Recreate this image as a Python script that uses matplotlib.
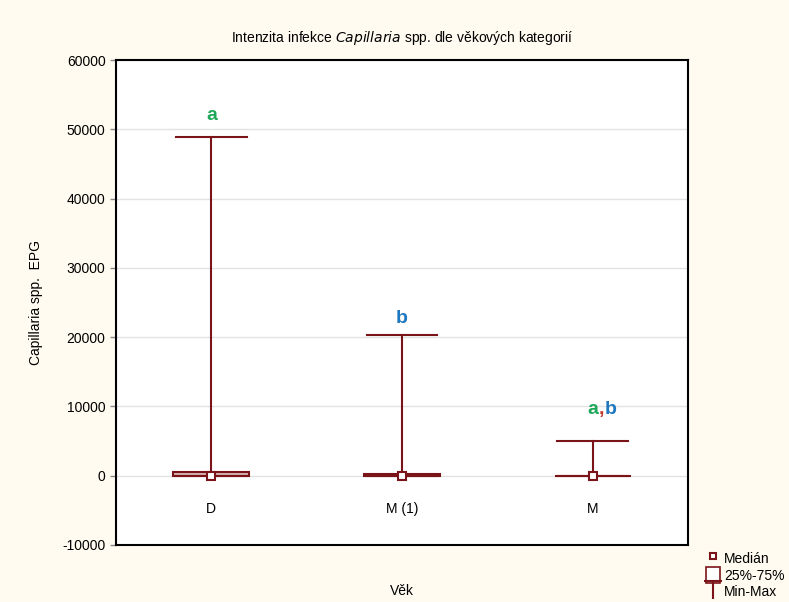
import matplotlib
matplotlib.use("Agg")
import matplotlib.pyplot as plt
from matplotlib.lines import Line2D
from matplotlib.patches import Patch
from matplotlib.path import Path
from matplotlib.markers import MarkerStyle

categories = ['D', 'M (1)', 'M']
mins = [0, 0, 0]
q1 = [0, 0, 0]
medians = [0, 0, 0]
q3 = [500, 250, 0]
maxs = [48900, 20300, 5000]
letters = [['a'], ['b'], ['a', ',', 'b']]
letter_colors = [['#1fa85a'], ['#1f78c0'], ['#1fa85a', '#c0392b', '#1f78c0']]
letter_y = [50800, 21400, 8300]
yticks = [-10000, 0, 10000, 20000, 30000, 40000, 50000, 60000]

plt.rcParams['font.family'] = ['Liberation Sans', 'DejaVu Sans']
BG = '#fffbf0'
RED = '#7a1418'

fig = plt.figure(figsize=(7.89, 6.02), dpi=100, facecolor=BG)
ax = fig.add_axes([116/789, 1-545/602, (688-116)/789, (545-60)/602])
ax.set_facecolor('white')

pos = list(range(len(categories)))
stats = []
for i, c in enumerate(categories):
    stats.append(dict(label=c, whislo=mins[i], q1=q1[i], med=medians[i],
                      q3=q3[i], whishi=maxs[i], fliers=[]))
ax.bxp(stats, positions=pos, widths=0.40, capwidths=0.37, showfliers=False,
       patch_artist=True,
       boxprops=dict(facecolor='#d9b3b3', edgecolor=RED, linewidth=1.5),
       whiskerprops=dict(color=RED, linewidth=1.5),
       capprops=dict(color=RED, linewidth=1.5),
       medianprops=dict(linestyle='none'))
ax.plot(pos, medians, 's', ms=6, mfc='white', mec=RED, mew=1.5, linestyle='none', zorder=5)

for i in pos:
    labs = letters[i]
    cols = letter_colors[i]
    if len(labs) == 1:
        ax.text(i, letter_y[i], labs[0], color=cols[0], fontsize=14, fontweight='bold',
                ha='center', va='bottom')
    else:
        ax.annotate(labs[1], (i, letter_y[i]), xytext=(6, 0), textcoords='offset points',
                    color=cols[1], fontsize=14, fontweight='bold', ha='center', va='bottom')
        ax.annotate(labs[0], (i, letter_y[i]), xytext=(4, 0), textcoords='offset points',
                    color=cols[0], fontsize=14, fontweight='bold', ha='right', va='bottom')
        ax.annotate(labs[2], (i, letter_y[i]), xytext=(8.5, 0), textcoords='offset points',
                    color=cols[2], fontsize=14, fontweight='bold', ha='left', va='bottom')

ax.set_xlim(-0.5, 2.5)
ax.set_ylim(-10000, 60000)
ax.set_yticks(yticks)
ax.set_yticklabels([str(t) for t in yticks], fontsize=10)
ax.set_xticks(pos)
ax.set_xticklabels(categories, fontsize=10)
ax.tick_params(axis='y', direction='out', length=4, color='#888888', width=1)
ax.tick_params(axis='x', length=0, pad=-31)
ax.yaxis.grid(True, color='#e2e2e2', linewidth=1)
ax.set_axisbelow(True)
for s in ax.spines.values():
    s.set_color('black')
    s.set_linewidth(1.5)

ax.set_xlabel('Věk', fontsize=10)
ax.xaxis.set_label_coords(0.5, -0.08)
ax.set_ylabel('Capillaria spp.  EPG', fontsize=10, labelpad=14)
ax.set_title(r'Intenzita infekce $\it{Capillaria}$ spp. dle věkových kategorií',
             fontsize=10, pad=13)

tpath = Path([(-1, 1), (1, 1), (0, 1), (0, -1)],
             [Path.MOVETO, Path.LINETO, Path.MOVETO, Path.LINETO])
handles = [
    Line2D([], [], marker='s', ms=5, mfc='white', mec=RED, mew=1.5, linestyle='none'),
    Patch(facecolor='white', edgecolor=RED, linewidth=1.2),
    Line2D([], [], marker=MarkerStyle(tpath), ms=13, mfc='none', mec=RED, mew=1.5, linestyle='none'),
]
fig.legend(handles, ['Medián', '25%-75%', 'Min-Max'], loc='lower right',
           bbox_to_anchor=(1.005, -0.01), frameon=False, fontsize=10,
           handlelength=1.0, handleheight=1.4, handletextpad=0.3, labelspacing=0.05,
           borderaxespad=0.2)

fig.savefig('out.png', dpi=100, facecolor=BG)
